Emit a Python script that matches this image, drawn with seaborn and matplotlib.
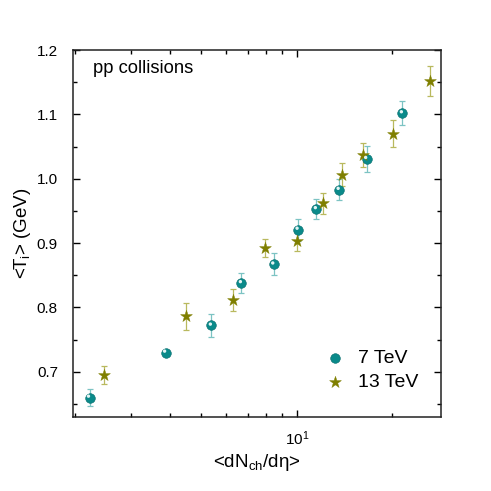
import numpy as np
import pandas as pd
import seaborn as sns
import matplotlib
matplotlib.use("Agg")
import matplotlib.pyplot as plt
from matplotlib.ticker import LogLocator, NullFormatter, MultipleLocator
from matplotlib.transforms import offset_copy

# 7 TeV
x7 = [2.23, 3.87, 5.39, 6.70, 8.47, 10.1, 11.53, 13.6, 16.6, 21.5]
y7 = [0.660, 0.730, 0.772, 0.838, 0.867, 0.921, 0.953, 0.983, 1.031, 1.102]
e7 = [0.013, 0.004, 0.018, 0.0155, 0.017, 0.017, 0.016, 0.016, 0.020, 0.019]

# 13 TeV
x13 = [2.48, 4.48, 6.28, 7.93, 10.05, 12.1, 13.9, 16.2, 20.1, 26.2]
y13 = [0.695, 0.786, 0.811, 0.893, 0.903, 0.962, 1.006, 1.037, 1.070, 1.152]
e13 = [0.0145, 0.021, 0.017, 0.014, 0.015, 0.016, 0.018, 0.019, 0.021, 0.023]

teal = "#0a8a8a"
olive = "#7f7f00"
teal_err = "#7cc3c3"
olive_err = "#b9b95e"

sns.set_style("ticks", rc={"text.color": "black", "axes.labelcolor": "black",
                           "xtick.color": "black", "ytick.color": "black",
                           "axes.edgecolor": "#222222"})
plt.rcParams["font.family"] = ["Liberation Sans", "DejaVu Sans"]
plt.rcParams["mathtext.fontset"] = "custom"
plt.rcParams["mathtext.rm"] = "Liberation Sans"
plt.rcParams["mathtext.it"] = "Liberation Sans"

df7 = pd.DataFrame({"x": x7, "y": y7})
df13 = pd.DataFrame({"x": x13, "y": y13})

fig = plt.figure(figsize=(4.91, 4.91), dpi=100)
ax = fig.add_axes([0.149, 0.151, 0.749, 0.747])

ax.errorbar(x7, y7, yerr=e7, fmt="none", ecolor=teal_err, elinewidth=0.9,
            capsize=2.4, capthick=0.9, zorder=2)
ax.errorbar(x13, y13, yerr=e13, fmt="none", ecolor=olive_err, elinewidth=0.9,
            capsize=2.4, capthick=0.9, zorder=2)

sns.scatterplot(data=df7, x="x", y="y", ax=ax, marker="o", s=48, color=teal,
                edgecolor="#066b6b", linewidth=0.4, zorder=3, label="7 TeV")
# highlight on the spheres
hl = offset_copy(ax.transData, fig=fig, x=-0.8, y=1.0, units="points")
ax.scatter(x7, y7, s=6, color="#e2f4f4", edgecolor="none", transform=hl, zorder=4)
sns.scatterplot(data=df13, x="x", y="y", ax=ax, marker="*", s=80, color=olive,
                edgecolor=olive, linewidth=0.3, zorder=3, label="13 TeV")

ax.set_xscale("log")
ax.set_xlim(1.98, 28.4)
ax.set_ylim(0.63, 1.2)
ax.xaxis.set_major_locator(LogLocator(base=10))
ax.xaxis.set_minor_locator(LogLocator(base=10, subs=np.arange(2, 10)))
ax.xaxis.set_minor_formatter(NullFormatter())
ax.yaxis.set_major_locator(MultipleLocator(0.1))
ax.yaxis.set_minor_locator(MultipleLocator(0.05))
ax.yaxis.set_major_formatter(plt.FuncFormatter(lambda v, p: f"{v:.1f}"))

ax.tick_params(which="both", direction="in", top=True, right=True,
               labelsize=11, width=1.0)
ax.tick_params(which="major", length=5)
ax.tick_params(which="minor", length=3)
ax.tick_params(axis="y", which="major", pad=11)
ax.tick_params(axis="x", which="major", pad=9)
for s in ax.spines.values():
    s.set_linewidth(1.1)

ax.set_xlabel(r"<dN$_{\rm ch}$/d$\eta$>", fontsize=13.5, labelpad=3)
ax.set_ylabel(r"<T$_i$> (GeV)", fontsize=13.5, labelpad=3)

ax.text(0.055, 0.951, "pp collisions", transform=ax.transAxes, fontsize=13.2,
        ha="left", va="center")

leg = ax.legend(loc="lower right", bbox_to_anchor=(0.985, 0.022), frameon=False,
                fontsize=14, handletextpad=0.55, labelspacing=0.36,
                handlelength=1.2, markerscale=1.0)

fig.savefig("out.png", dpi=100)
